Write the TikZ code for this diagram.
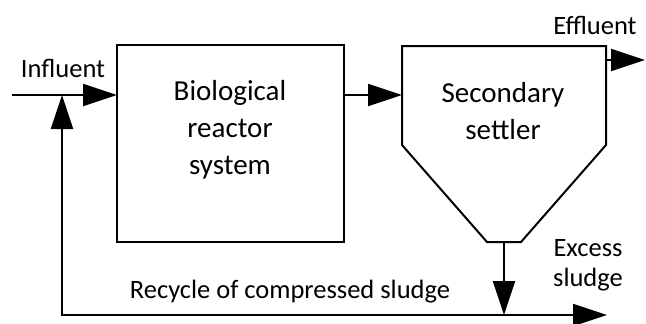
\documentclass[tikz,border=0pt]{standalone}
\usepackage{fontspec}
\setmainfont{Carlito}
\usetikzlibrary{arrows.meta}
\begin{document}
\begin{tikzpicture}[x=1pt,y=-1pt,
  flow/.style={line width=2pt,-{Triangle[length=34pt,width=22pt]}},
  biflow/.style={line width=2pt,{Triangle[length=34pt,width=22pt]}-{Triangle[length=34pt,width=22pt]}},
  unit/.style={draw,line width=2pt},
  boxtxt/.style={align=center,font=\fontsize{29}{37}\selectfont,inner sep=0pt},
  lbl/.style={align=center,font=\fontsize{26.5}{30}\selectfont,inner sep=0pt}]
\useasboundingbox (0,0) rectangle (646,324);
% units
\node[unit,minimum width=227pt,minimum height=197pt,inner sep=0pt] (reactor) at (230.5,143.5) {};
\node[boxtxt] (reactortxt) at (230,130) {Biological\\reactor\\system};
\coordinate (s1) at (402,46);
\coordinate (s2) at (606,46);
\coordinate (s3) at (606,145);
\coordinate (s4) at (521,242);
\coordinate (s5) at (487,242);
\coordinate (s6) at (402,145);
\draw[unit,line join=miter] (s1) -- (s2) -- (s3) -- (s4) -- (s5) -- (s6) -- cycle;
\node[boxtxt] (settlertxt) at (503,111.5) {Secondary\\settler};
% connector points
\coordinate (inf) at (12,95);
\coordinate (mix) at (62,95);
\coordinate (rin) at (117,95);
\coordinate (rout) at (344,95);
\coordinate (sin) at (402,95);
\coordinate (eff0) at (606,60);
\coordinate (eff1) at (645,60);
\coordinate (sbot) at (504,242);
\coordinate (sj) at (504,315);
\coordinate (corner) at (62,315);
\coordinate (exc) at (607,315);
% flows
\draw[flow] (inf) -- (rin);
\draw[flow] (rout) -- (sin);
\draw[flow] (eff0) -- (eff1);
\draw[flow] (sbot) -- (sj);
\draw[biflow,line join=miter] (mix) -- (corner) -- (exc);
% labels
\node[lbl] (inflbl) at (63,68) {Influent};
\node[lbl] (efflbl) at (595,25) {Effluent};
\node[lbl] (exclbl) at (588,265) {Excess\\sludge};
\node[lbl] (reclbl) at (290,292) {Recycle of compressed sludge};
\end{tikzpicture}
\end{document}
